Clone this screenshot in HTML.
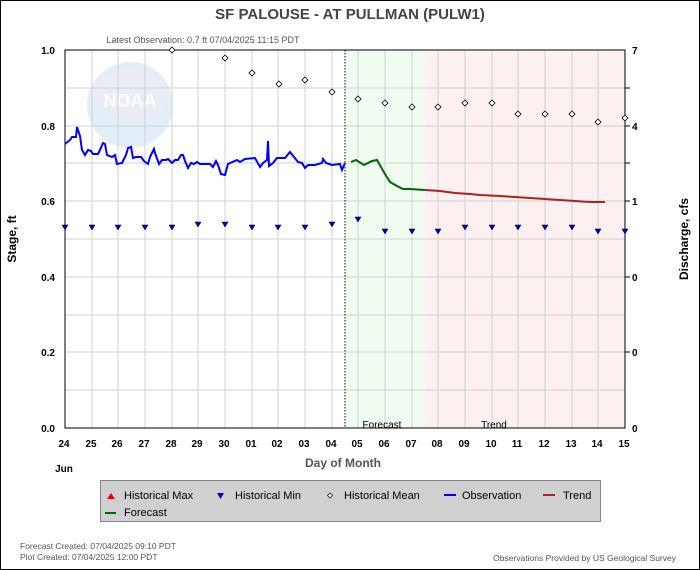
<!DOCTYPE html><html><head><style>body{margin:0;background:#fff}svg{display:block;font-family:"Liberation Sans",sans-serif}</style></head><body>
<svg width="700" height="570" viewBox="0 0 700 570">
<rect x="0.5" y="0.5" width="699" height="569" fill="#fff" stroke="#000"/>
<text x="350" y="19" text-anchor="middle" font-size="15" font-weight="bold" fill="#444">SF PALOUSE - AT PULLMAN  (PULW1)</text>
<text x="203" y="43" text-anchor="middle" font-size="9" fill="#555">Latest Observation: 0.7 ft 07/04/2025 11:15 PDT</text>
<rect x="346" y="50" width="79" height="378" fill="#effcef"/>
<rect x="425" y="50" width="200" height="378" fill="#fdf0f0"/>
<g opacity="0.22"><circle cx="130" cy="105" r="43" fill="#7fb8e0"/><path d="M87 95 Q130 40 173 95 Q150 130 125 120 Q105 110 87 95Z" fill="#a8b0d8"/><text x="130" y="107" text-anchor="middle" font-size="18" font-weight="bold" fill="#fff">NOAA</text></g>
<g stroke="#d0d0d0" stroke-width="1">
<line x1="65" y1="88" x2="625" y2="88"/><line x1="65" y1="126" x2="625" y2="126"/><line x1="65" y1="163" x2="625" y2="163"/><line x1="65" y1="201" x2="625" y2="201"/><line x1="65" y1="239" x2="625" y2="239"/><line x1="65" y1="277" x2="625" y2="277"/><line x1="65" y1="315" x2="625" y2="315"/><line x1="65" y1="352" x2="625" y2="352"/><line x1="65" y1="390" x2="625" y2="390"/>
<line x1="92" y1="50" x2="92" y2="428"/><line x1="118" y1="50" x2="118" y2="428"/><line x1="145" y1="50" x2="145" y2="428"/><line x1="172" y1="50" x2="172" y2="428"/><line x1="198" y1="50" x2="198" y2="428"/><line x1="225" y1="50" x2="225" y2="428"/><line x1="252" y1="50" x2="252" y2="428"/><line x1="278" y1="50" x2="278" y2="428"/><line x1="305" y1="50" x2="305" y2="428"/><line x1="332" y1="50" x2="332" y2="428"/><line x1="358" y1="50" x2="358" y2="428"/><line x1="385" y1="50" x2="385" y2="428"/><line x1="412" y1="50" x2="412" y2="428"/><line x1="438" y1="50" x2="438" y2="428"/><line x1="465" y1="50" x2="465" y2="428"/><line x1="492" y1="50" x2="492" y2="428"/><line x1="518" y1="50" x2="518" y2="428"/><line x1="545" y1="50" x2="545" y2="428"/><line x1="572" y1="50" x2="572" y2="428"/><line x1="598" y1="50" x2="598" y2="428"/>
</g>
<line x1="345" y1="50" x2="345" y2="428" stroke="#000" stroke-dasharray="1.5,1.5"/>
<rect x="65" y="50" width="560" height="378" fill="none" stroke="#000"/>
<g stroke="#000"><line x1="625" y1="88" x2="630" y2="88"/><line x1="625" y1="126" x2="630" y2="126"/><line x1="625" y1="163" x2="630" y2="163"/><line x1="625" y1="201" x2="630" y2="201"/><line x1="625" y1="277" x2="630" y2="277"/><line x1="625" y1="352" x2="630" y2="352"/></g>
<g font-size="10" font-weight="bold" fill="#000" text-anchor="end">
<text x="55" y="54">1.0</text><text x="55" y="130">0.8</text><text x="55" y="205">0.6</text><text x="55" y="281">0.4</text><text x="55" y="356">0.2</text><text x="55" y="432">0.0</text></g>
<g font-size="10" font-weight="bold" fill="#000"><text x="632" y="54">7</text><text x="632" y="130">4</text><text x="632" y="205">1</text><text x="632" y="281">0</text><text x="632" y="356">0</text><text x="632" y="432">0</text></g>
<g font-size="10" font-weight="bold" text-anchor="middle" fill="#000">
<text x="64" y="447">24</text><text x="91" y="447">25</text><text x="117" y="447">26</text><text x="144" y="447">27</text><text x="171" y="447">28</text><text x="197" y="447">29</text><text x="224" y="447">30</text><text x="251" y="447">01</text><text x="277" y="447">02</text><text x="304" y="447">03</text><text x="331" y="447">04</text><text x="357" y="447">05</text><text x="384" y="447">06</text><text x="411" y="447">07</text><text x="437" y="447">08</text><text x="464" y="447">09</text><text x="491" y="447">10</text><text x="517" y="447">11</text><text x="544" y="447">12</text><text x="571" y="447">13</text><text x="597" y="447">14</text><text x="624" y="447">15</text>
<text x="64" y="472">Jun</text></g>
<text x="343" y="467" text-anchor="middle" font-size="12" font-weight="bold" fill="#555">Day of Month</text>
<text x="382" y="428" text-anchor="middle" font-size="10" fill="#000">Forecast</text>
<text x="494" y="428" text-anchor="middle" font-size="10" fill="#000">Trend</text>
<text transform="translate(16,239) rotate(-90)" text-anchor="middle" font-size="12" font-weight="bold" fill="#000">Stage, ft</text>
<text transform="translate(688,239) rotate(-90)" text-anchor="middle" font-size="12" font-weight="bold" fill="#000">Discharge, cfs</text>
<g fill="#fff" stroke="#000" stroke-width="0.8">
<path d="M172 47l3 3-3 3-3-3z"/><path d="M225 55l3 3-3 3-3-3z"/><path d="M252 70l3 3-3 3-3-3z"/><path d="M279 81l3 3-3 3-3-3z"/><path d="M305 77l3 3-3 3-3-3z"/><path d="M332 89l3 3-3 3-3-3z"/><path d="M358 96l3 3-3 3-3-3z"/><path d="M385 100l3 3-3 3-3-3z"/><path d="M412 104l3 3-3 3-3-3z"/><path d="M438 104l3 3-3 3-3-3z"/><path d="M465 100l3 3-3 3-3-3z"/><path d="M492 100l3 3-3 3-3-3z"/><path d="M518 111l3 3-3 3-3-3z"/><path d="M545 111l3 3-3 3-3-3z"/><path d="M572 111l3 3-3 3-3-3z"/><path d="M598 119l3 3-3 3-3-3z"/><path d="M625 115l3 3-3 3-3-3z"/></g>
<g fill="#00c" stroke="#000" stroke-width="0.5">
<path d="M62 225h6l-3 5z"/><path d="M89 225h6l-3 5z"/><path d="M115 225h6l-3 5z"/><path d="M142 225h6l-3 5z"/><path d="M169 225h6l-3 5z"/><path d="M195 222h6l-3 5z"/><path d="M222 222h6l-3 5z"/><path d="M249 225h6l-3 5z"/><path d="M275 225h6l-3 5z"/><path d="M302 225h6l-3 5z"/><path d="M329 222h6l-3 5z"/><path d="M355 217h6l-3 5z"/><path d="M382 229h6l-3 5z"/><path d="M409 229h6l-3 5z"/><path d="M435 229h6l-3 5z"/><path d="M462 225h6l-3 5z"/><path d="M489 225h6l-3 5z"/><path d="M515 225h6l-3 5z"/><path d="M542 225h6l-3 5z"/><path d="M569 225h6l-3 5z"/><path d="M595 229h6l-3 5z"/><path d="M622 229h6l-3 5z"/></g>
<polyline fill="none" stroke="#00f" stroke-width="2" points="65,144 70,140 72,137 76,137 77,127 80,136 82,150 85,155 88,150 91,151 93,154 98,154 100,150 103,143 105,144 107,155 112,157 115,155 117,164 122,163 126,155 128,148 131,147 133,158 136,157 141,157 144,161 148,164 150,157 154,149 155,153 159,164 162,160 166,160 168,159 172,163 175,160 178,160 181,155 183,155 185,161 188,168 191,163 194,164 197,162 200,164 210,164 213,167 216,161 218,165 221,174 225,175 228,164 237,160 240,162 245,159 255,158 260,167 263,163 267,160 268,141 269,166 273,163 277,158 285,158 290,152 294,157 298,162 302,163 305,168 308,165 315,165 322,163 323,159 326,163 332,165 340,164 342,170 345,163"/>
<polyline fill="none" stroke="#060" stroke-width="2" points="351,162 356,160 364,165 372,161 377,160 385,174 390,182 397,186 403,189 410,189 425,190"/>
<polyline fill="none" stroke="#a22" stroke-width="2" points="425,190 440,191 455,193 470,194 480,195 500,196 515,197 530,198 545,199 560,200 575,201 590,202 605,202"/>
<rect x="100.5" y="480.5" width="500" height="41" fill="#d0d0d0" stroke="#888"/>
<g font-size="11" fill="#000">
<path d="M107 499l4-6 4 6z" fill="#e00"/><text x="124" y="499">Historical Max</text>
<path d="M217 493h7l-3.5 6z" fill="#00c"/><text x="235" y="499">Historical Min</text>
<path d="M330 493l2.5 2.5-2.5 2.5-2.5-2.5z" fill="#fff" stroke="#000" stroke-width="0.7"/><text x="344" y="499">Historical Mean</text>
<rect x="444" y="494" width="12" height="2" fill="#00f"/><text x="462" y="499">Observation</text>
<rect x="543" y="494" width="12" height="2" fill="#a22"/><text x="563" y="499">Trend</text>
<rect x="105" y="512" width="11" height="2" fill="#060"/><text x="124" y="516">Forecast</text></g>
<g font-size="8.5" fill="#555"><text x="20" y="549">Forecast Created: 07/04/2025 09:10 PDT</text><text x="20" y="560">Plot Created: 07/04/2025 12:00 PDT</text><text x="676" y="561" text-anchor="end">Observations Provided by US Geological Survey</text></g>
</svg></body></html>
